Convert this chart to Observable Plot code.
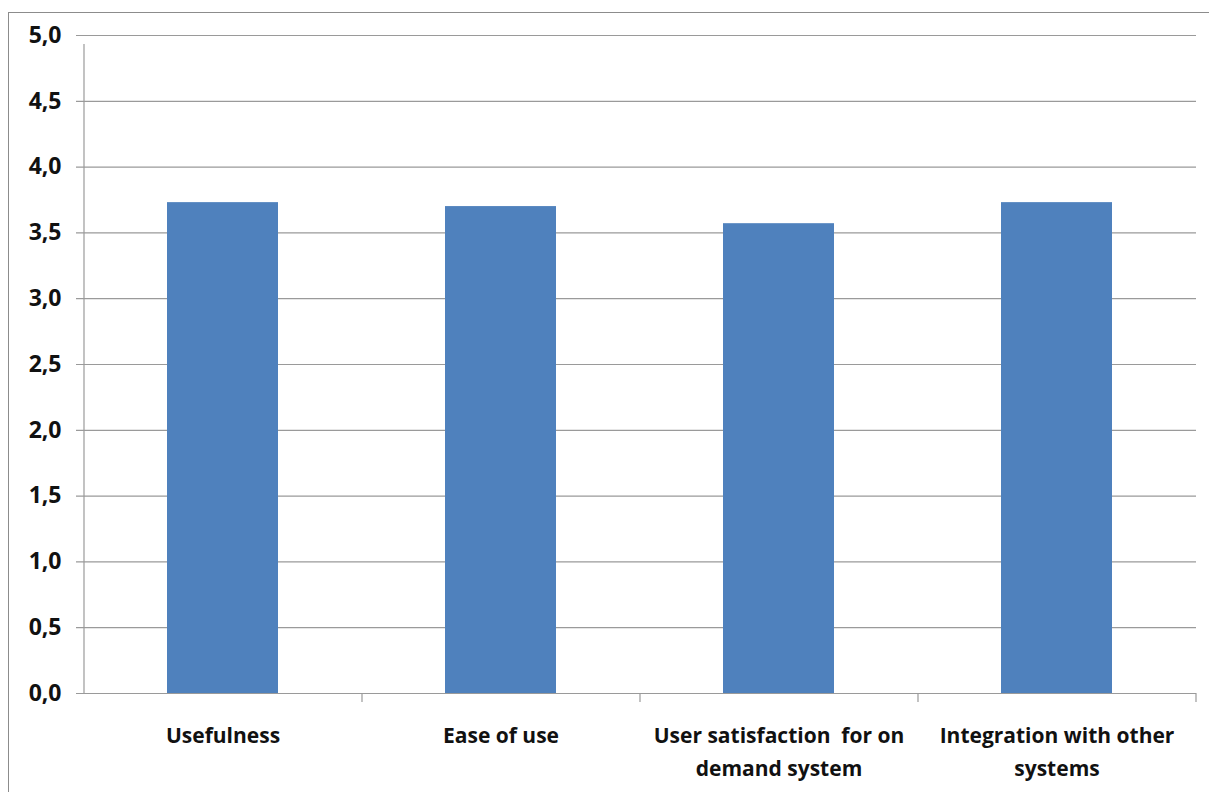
<!DOCTYPE html>
<html>
<head>
<meta charset="utf-8">
<script src="https://cdn.jsdelivr.net/npm/d3@7"></script>
<script src="https://cdn.jsdelivr.net/npm/@observablehq/plot@0.6"></script>
<style>
  html, body { margin: 0; padding: 0; background: #fff; overflow: hidden; }
  #wrap { position: relative; width: 1209px; height: 792px; }
  #border { position: absolute; left: 8px; top: 12px; width: 1400px; height: 1000px;
            border-top: 1px solid #8c8c8c; border-left: 1px solid #8c8c8c; pointer-events: none; }
  svg { position: absolute; left: 0; top: 0; }
</style>
</head>
<body>
<div id="wrap"><div id="border"></div></div>
<script>
const categories = ["Usefulness", "Ease of use", "User satisfaction for on demand system", "Integration with other systems"];
const tickLabels = ["Usefulness", "Ease of use", "User satisfaction  for on\ndemand system", "Integration with other\nsystems"];
const values = [3.73, 3.70, 3.57, 3.73];
const yTicks = [0, 0.5, 1, 1.5, 2, 2.5, 3, 3.5, 4, 4.5, 5];

const data = categories.map((c, i) => ({category: c, value: values[i]}));
const labelOf = new Map(categories.map((c, i) => [c, tickLabels[i]]));

const W = 1209, H = 792;
const mL = 84, mR = 13, mT = 35, mB = 99;
const half = (W - mL - mR) / categories.length / 2;
const gray = "#9a9a9a";

const chart = Plot.plot({
  width: W,
  height: H,
  marginLeft: mL,
  marginRight: mR,
  marginTop: mT,
  marginBottom: mB,
  style: { fontFamily: "'Open Sans', sans-serif", background: "transparent", color: "#111" },
  x: { domain: categories, paddingInner: 0.6, paddingOuter: 0.3, align: 0.5 },
  y: { domain: [0, 5] },
  marks: [
    Plot.gridY(yTicks, { stroke: gray, strokeOpacity: 1, strokeWidth: 1.2, insetLeft: -8 }),
    Plot.axisY(yTicks, {
      tickSize: 0, tickPadding: 23, fontSize: 23, fontWeight: "bold",
      tickFormat: d => d.toFixed(1).replace(".", ","), label: null, fill: "#111"
    }),
    Plot.barY(data, { x: "category", y: "value", fill: "#4f81bd" }),
    Plot.ruleY([0], { stroke: gray, strokeWidth: 1.2 }),
    Plot.ruleX([categories[0]], { x: d => d, y1: 0, y2: 5, dx: -half, stroke: gray, strokeWidth: 1.2, insetBottom: -9 }),
    Plot.ruleX(categories, { x: d => d, y1: 0, y2: 0, dx: half, stroke: gray, strokeWidth: 1.2, insetBottom: -9 }),
    Plot.axisX({
      tickSize: 0, tickPadding: 26, fontSize: 21, fontWeight: "bold", lineHeight: 1.57,
      tickFormat: d => labelOf.get(d), label: null, fill: "#111"
    })
  ]
});
document.getElementById("wrap").appendChild(chart);
</script>
</body>
</html>
